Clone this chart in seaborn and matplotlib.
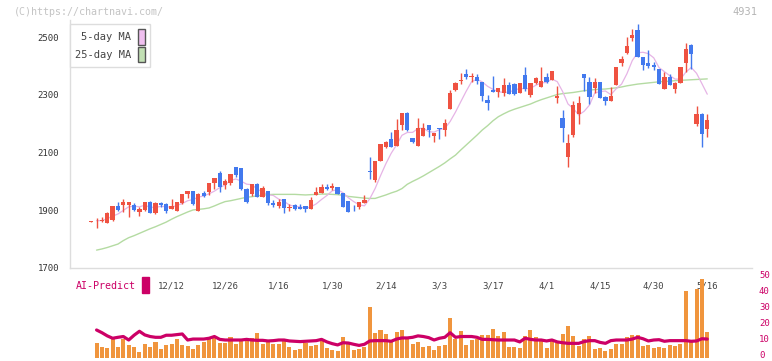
import matplotlib
matplotlib.use("Agg")
import matplotlib.pyplot as plt
from matplotlib.patches import Patch, Rectangle
from matplotlib.transforms import ScaledTranslation
import numpy as np
import pandas as pd
import seaborn as sns

# daily candles (oldest first)
opens = [1862, 1863, 1862, 1857, 1866, 1915, 1917, 1917, 1917, 1895,
         1901, 1928, 1892, 1926, 1922, 1906, 1899, 1924, 1956, 1967,
         1899, 1960, 1963, 1996, 2029, 1989, 1994, 2050, 2046, 1974,
         1958, 1991, 1947, 1967, 1926, 1915, 1940, 1910, 1919, 1912,
         1915, 1903, 1953, 1961, 1982, 1977, 1979, 1960, 1932, 1909,
         1912, 1926, 2034, 2005, 2072, 2118, 2147, 2123, 2196, 2237,
         2150, 2124, 2157, 2195, 2158, 2184, 2178, 2251, 2316, 2349,
         2373, 2361, 2363, 2343, 2282, 2315, 2311, 2305, 2335, 2337,
         2307, 2368, 2298, 2342, 2328, 2361, 2352, 2290, 2219, 2086,
         2161, 2233, 2372, 2344, 2325, 2344, 2292, 2279, 2335, 2411,
         2446, 2498, 2524, 2431, 2410, 2403, 2389, 2321, 2361, 2321,
         2342, 2411, 2472, 2199, 2233, 2183]
highs = [1864, 1874, 1878, 1894, 1915, 1930, 1939, 1929, 1926, 1910,
         1929, 1932, 1927, 1930, 1924, 1939, 1929, 1956, 1967, 1967,
         1959, 1967, 1994, 2012, 2036, 2008, 2026, 2050, 2046, 1976,
         1992, 1993, 1984, 1967, 1936, 1940, 1940, 1922, 1922, 1922,
         1915, 1945, 1981, 1990, 1991, 1993, 1979, 1960, 1932, 1917,
         1930, 1953, 2084, 2071, 2129, 2139, 2171, 2216, 2237, 2240,
         2150, 2218, 2203, 2195, 2168, 2186, 2216, 2315, 2343, 2375,
         2389, 2376, 2372, 2343, 2299, 2365, 2325, 2358, 2344, 2342,
         2342, 2396, 2342, 2360, 2396, 2375, 2382, 2330, 2247, 2164,
         2278, 2296, 2372, 2361, 2358, 2344, 2296, 2327, 2396, 2434,
         2500, 2528, 2545, 2431, 2455, 2413, 2389, 2379, 2372, 2344,
         2396, 2479, 2477, 2262, 2237, 2233]
lows = [1861, 1840, 1859, 1856, 1864, 1897, 1893, 1878, 1897, 1881,
        1897, 1891, 1888, 1910, 1892, 1905, 1897, 1922, 1944, 1918,
        1898, 1947, 1952, 1972, 1962, 1974, 1987, 2014, 1970, 1926,
        1951, 1946, 1945, 1918, 1910, 1907, 1889, 1899, 1901, 1903,
        1893, 1903, 1953, 1959, 1969, 1970, 1955, 1910, 1893, 1897,
        1906, 1925, 2009, 1999, 2071, 2114, 2118, 2122, 2177, 2176,
        2134, 2123, 2157, 2155, 2138, 2147, 2158, 2250, 2314, 2337,
        2353, 2345, 2337, 2279, 2247, 2310, 2291, 2297, 2304, 2299,
        2305, 2314, 2293, 2338, 2328, 2341, 2352, 2270, 2138, 2051,
        2155, 2200, 2313, 2268, 2307, 2290, 2266, 2279, 2335, 2400,
        2442, 2486, 2432, 2386, 2394, 2386, 2337, 2321, 2335, 2307,
        2342, 2378, 2389, 2193, 2120, 2155]
closes = [1863, 1865, 1865, 1890, 1915, 1901, 1927, 1927, 1901, 1904,
          1928, 1892, 1925, 1918, 1899, 1915, 1928, 1956, 1967, 1920,
          1956, 1949, 1994, 2012, 1982, 2001, 2026, 2021, 1974, 1930,
          1992, 1947, 1976, 1924, 1917, 1929, 1909, 1911, 1903, 1906,
          1903, 1936, 1963, 1979, 1975, 1984, 1955, 1910, 1893, 1908,
          1929, 1936, 2033, 2071, 2129, 2136, 2118, 2178, 2237, 2178,
          2138, 2184, 2184, 2178, 2168, 2183, 2202, 2306, 2341, 2350,
          2363, 2366, 2348, 2296, 2273, 2311, 2325, 2335, 2304, 2304,
          2342, 2320, 2342, 2357, 2348, 2344, 2382, 2296, 2186, 2133,
          2264, 2271, 2359, 2293, 2344, 2290, 2279, 2296, 2396, 2424,
          2469, 2507, 2432, 2404, 2401, 2397, 2337, 2361, 2335, 2342,
          2396, 2458, 2442, 2234, 2163, 2213]
ma25 = [np.nan, 1762, 1766, 1771, 1777, 1783, 1795, 1805, 1812, 1820,
        1828, 1836, 1843, 1851, 1859, 1869, 1878, 1886, 1894, 1901,
        1903, 1905, 1908, 1915, 1923, 1930, 1933, 1937, 1941, 1945,
        1947, 1950, 1952, 1954, 1955, 1955, 1955, 1955, 1955, 1954,
        1953, 1954, 1955, 1956, 1956, 1955, 1954, 1952, 1948, 1946,
        1944, 1942, 1941, 1941, 1947, 1953, 1960, 1966, 1975, 1990,
        2000, 2009, 2019, 2030, 2041, 2052, 2064, 2078, 2091, 2109,
        2126, 2143, 2160, 2178, 2193, 2210, 2224, 2234, 2243, 2250,
        2256, 2262, 2268, 2276, 2283, 2289, 2295, 2301, 2304, 2306,
        2308, 2311, 2314, 2316, 2318, 2319, 2320, 2322, 2324, 2327,
        2331, 2334, 2337, 2339, 2341, 2343, 2345, 2346, 2347, 2349,
        2350, 2351, 2352, 2353, 2354, 2355]

# lower panel (starts with the second candle)
volume = [9.1, 6.6, 6.0, 11.6, 6.6, 11.6, 7.9, 6.6, 3.5, 8.5,
          6.6, 9.7, 5.3, 7.9, 8.5, 11.6, 7.9, 7.2, 5.3, 7.9,
          9.7, 12.3, 13.5, 9.1, 9.1, 12.9, 8.5, 11.0, 11.0, 12.3,
          15.4, 8.5, 11.0, 8.5, 8.5, 11.6, 6.6, 4.7, 5.3, 9.1,
          7.2, 7.9, 11.6, 6.0, 4.7, 4.1, 12.9, 8.5, 4.7, 5.3,
          6.6, 31.8, 15.4, 17.3, 14.8, 11.0, 16.0, 17.3, 12.9, 8.5,
          9.7, 6.6, 7.2, 4.7, 7.2, 7.9, 24.8, 11.6, 16.7, 7.9,
          11.0, 11.6, 14.2, 14.2, 17.9, 13.5, 16.0, 6.6, 6.6, 6.0,
          13.5, 17.3, 12.9, 11.6, 6.0, 10.4, 9.1, 14.8, 19.8, 13.5,
          7.2, 11.6, 13.5, 5.3, 6.0, 4.1, 5.3, 8.5, 8.5, 12.9,
          14.2, 14.2, 7.2, 7.9, 6.0, 6.6, 6.0, 7.9, 7.2, 8.5,
          41.8, 9.7, 43.1, 49.4, 16.0]
ai_predict = [17.3, 15.6, 13.6, 12.1, 12.7, 13.2, 11.0, 14.0, 16.5, 14.2,
              13.2, 12.7, 12.7, 14.0, 14.0, 14.4, 14.8, 11.0, 11.6, 11.6,
              11.6, 12.1, 13.2, 11.4, 11.0, 11.0, 11.0, 11.0, 11.4, 11.0,
              10.8, 10.8, 10.4, 10.6, 11.0, 11.0, 10.4, 10.2, 10.0, 10.2,
              10.4, 10.6, 11.4, 9.8, 8.7, 7.9, 9.3, 9.1, 8.3, 7.6,
              8.3, 10.4, 10.6, 10.6, 10.6, 10.2, 11.6, 12.3, 12.3, 12.7,
              13.6, 13.2, 12.5, 11.0, 12.1, 12.7, 15.6, 12.7, 13.2, 13.2,
              13.2, 12.7, 11.4, 11.4, 11.2, 11.0, 11.0, 11.0, 11.0, 9.8,
              12.1, 11.4, 11.0, 11.0, 10.4, 11.0, 9.8, 9.3, 8.9, 8.9,
              8.9, 10.0, 10.6, 10.6, 9.5, 8.9, 10.6, 11.0, 11.0, 11.0,
              11.6, 12.7, 11.8, 10.4, 11.0, 11.2, 10.2, 10.6, 10.6, 10.6,
              10.6, 10.2, 10.4, 11.8, 11.6]

date_labels = ["12/12", "12/26", "1/16", "1/30", "2/14", "3/3",
               "3/17", "4/1", "4/15", "4/30", "5/16"]
date_pos = [15, 25, 35, 45, 55, 65, 75, 85, 95, 105, 115]

RED = "#ef5241"
BLUE = "#4279ee"
PINK = "#e6b4e6"
GREEN = "#b4dba2"
ORANGE = "#f0953d"
CRIMSON = "#cc0066"
GRID = "#dddddd"

sns.set_style("white")
plt.rcParams["font.family"] = ["DejaVu Sans Mono"]

prices = pd.DataFrame({"day": np.arange(len(closes)), "open": opens,
                       "high": highs, "low": lows, "close": closes,
                       "ma25": ma25})
prices["ma5"] = prices["close"].rolling(5, min_periods=1).mean()
prices.loc[0, "ma5"] = np.nan

lower = pd.DataFrame({"day": np.arange(1, len(closes)),
                      "volume": volume, "ai": ai_predict})

fig = plt.figure(figsize=(7.72, 3.61), dpi=100)
ax = fig.add_axes([70 / 772, 1 - 268 / 361, 682 / 772, 248 / 361])
ax2 = fig.add_axes([70 / 772, 1 - 357.5 / 361, 682 / 772, 79.5 / 361])

x_lo, x_hi = -3.96, 123.35

# moving averages
sns.lineplot(data=prices, x="day", y="ma25", ax=ax, color=GREEN,
             linewidth=1.0, zorder=2)
sns.lineplot(data=prices, x="day", y="ma5", ax=ax, color=PINK,
             linewidth=0.9, zorder=2)

# candles
up = prices["close"] >= prices["open"]
cols = np.where(up, RED, BLUE)
ax.vlines(prices["day"], prices["low"], prices["high"], colors=cols,
          linewidth=1.0, zorder=3)
body_lo = np.minimum(prices["open"], prices["close"])
body_h = (prices["close"] - prices["open"]).abs()
thin = body_h < 3
body_lo = np.where(thin, body_lo - 1.5, body_lo)
body_h = np.where(thin, 3, body_h)
ax.bar(prices["day"], body_h, bottom=body_lo, width=0.8, color=cols,
       linewidth=0, zorder=4)

ax.set_xlim(x_lo, x_hi)
ax.set_ylim(1700, 2559)
ax.set_xlabel("")
ax.set_ylabel("")
ax.set_yticks([1700, 1900, 2100, 2300, 2500])
ax.set_xticks(date_pos)
ax.set_xticklabels(date_labels)
ax.set_xticks(np.linspace(x_lo, x_hi, 12), minor=True)
ax.tick_params(axis="y", direction="inout", length=8, width=1, color=GRID,
               pad=4, labelsize=6.5, labelcolor="#333333")
ax.tick_params(axis="x", which="major", length=0, pad=10, labelsize=6.5,
               labelcolor="#444444")
ax.tick_params(axis="x", which="minor", direction="inout", length=8,
               width=1, color=GRID)
for side in ["top", "right"]:
    ax.spines[side].set_visible(False)
for side in ["left", "bottom"]:
    ax.spines[side].set_color(GRID)
    ax.spines[side].set_linewidth(1)

handles = [Patch(facecolor="#f0c0f0", edgecolor="#555555", label="5-day MA"),
           Patch(facecolor="#c2e0b4", edgecolor="#555555", label="25-day MA")]
leg = ax.legend(handles=handles, loc="upper left",
                bbox_to_anchor=(70 / 772, 1 - 24 / 361),
                bbox_transform=fig.transFigure, markerfirst=False,
                handlelength=0.7, handleheight=1.9, handletextpad=0.6,
                labelspacing=0.2, borderpad=0.5, borderaxespad=0,
                fancybox=False, framealpha=1, edgecolor=GRID, fontsize=7.5)
for t in leg.get_texts():
    t.set_color("#444444")

# lower panel: volume bars and AI-predict line
sns.barplot(data=lower, x="day", y="volume", ax=ax2, native_scale=True,
            color=ORANGE, saturation=1, width=0.75, errorbar=None,
            linewidth=0)
sns.lineplot(data=lower, x="day", y="ai", ax=ax2, color=CRIMSON,
             linewidth=2.3, zorder=5)
ax2.set_xlim(x_lo, x_hi)
ax2.set_ylim(0, 50)
ax2.set_xlabel("")
ax2.set_ylabel("")
ax2.set_xticks([])
ax2.yaxis.tick_right()
ax2.set_yticks([0, 10, 20, 30, 40, 50])
ax2.tick_params(axis="y", length=0, pad=5, labelsize=6.5,
                labelcolor=CRIMSON)
# nudge the right-hand numbers up a little so "0" stays inside the image
lift = ScaledTranslation(0, 2.2 / 72, fig.dpi_scale_trans)
for lbl in ax2.get_yticklabels():
    lbl.set_transform(lbl.get_transform() + lift)
for side in ax2.spines:
    ax2.spines[side].set_visible(False)
ax2.patch.set_alpha(0)

fig.text(14 / 772, 1 - 12 / 361, "(C)https://chartnavi.com/",
         color="#c4c4c4", fontsize=7.2, va="center", ha="left")
fig.text(757 / 772, 1 - 12 / 361, "4931", color="#b4b4b4",
         fontsize=7.5, va="center", ha="right")
fig.text(76 / 772, 1 - 286 / 361, "AI-Predict", color=CRIMSON,
         fontsize=7.2, va="center", ha="left")
fig.add_artist(Rectangle((142 / 772, 1 - 293 / 361), 7 / 772, 16 / 361,
                         transform=fig.transFigure, color=CRIMSON))

fig.savefig("out.png", dpi=100)
